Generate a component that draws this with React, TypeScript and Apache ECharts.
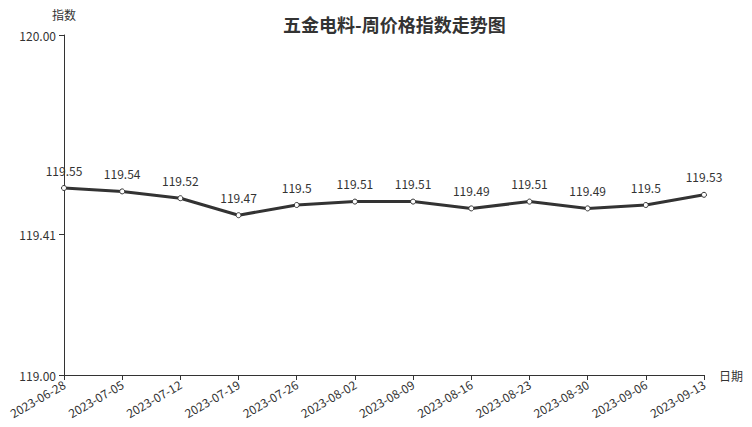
import React, { useEffect, useRef } from "react";
import * as echarts from "echarts";

const title = "五金电料-周价格指数走势图";
const categories = [
  "2023-06-28", "2023-07-05", "2023-07-12", "2023-07-19", "2023-07-26", "2023-08-02",
  "2023-08-09", "2023-08-16", "2023-08-23", "2023-08-30", "2023-09-06", "2023-09-13",
];
const values = [119.55, 119.54, 119.52, 119.47, 119.5, 119.51, 119.51, 119.49, 119.51, 119.49, 119.5, 119.53];
const yTicks = [119.0, 119.414, 120.0];
const yMin = 119;
const yMax = 120;

const FONT = "'Noto Sans CJK SC', 'Noto Sans', sans-serif";

export default function App() {
  const ref = useRef<HTMLDivElement>(null);
  useEffect(() => {
    document.body.style.margin = "0";
    if (!ref.current) return;
    const chart = echarts.init(ref.current, null, { renderer: "svg" });
    chart.setOption({
      animation: false,
      textStyle: { fontFamily: FONT },
      title: {
        text: title,
        left: 278,
        top: 10,
        textStyle: { fontSize: 18, fontWeight: "bold", color: "#333", fontFamily: FONT },
      },
      grid: { left: 64, right: 48, top: 35, bottom: 52 },
      xAxis: {
        type: "category",
        data: categories,
        boundaryGap: false,
        name: "日期",
        nameGap: 15,
        nameTextStyle: { color: "#333", fontSize: 12 },
        axisLine: { lineStyle: { color: "#333", width: 1 } },
        axisTick: { alignWithLabel: true, lineStyle: { color: "#333" } },
        axisLabel: { rotate: 30, color: "#333", fontSize: 12, interval: 0 },
      },
      yAxis: {
        type: "value",
        min: yMin,
        max: yMax,
        name: "指数",
        nameTextStyle: { color: "#333", fontSize: 12 },
        splitLine: { show: false },
        axisLine: { show: true, lineStyle: { color: "#333", width: 1 } },
        axisTick: { show: true, customValues: yTicks, lineStyle: { color: "#333" } },
        axisLabel: {
          customValues: yTicks,
          color: "#333",
          fontSize: 12,
          formatter: (v: number) => v.toFixed(2),
        },
      },
      series: [
        {
          type: "line",
          data: values,
          symbol: "circle",
          symbolSize: 5,
          lineStyle: { color: "#333", width: 3 },
          itemStyle: { color: "#fff", borderColor: "#333", borderWidth: 1 },
          label: { show: true, position: "top", color: "#333", fontSize: 12, distance: 9 },
        },
      ],
    });
    return () => chart.dispose();
  }, []);
  return <div ref={ref} style={{ width: 752, height: 427 }} />;
}
